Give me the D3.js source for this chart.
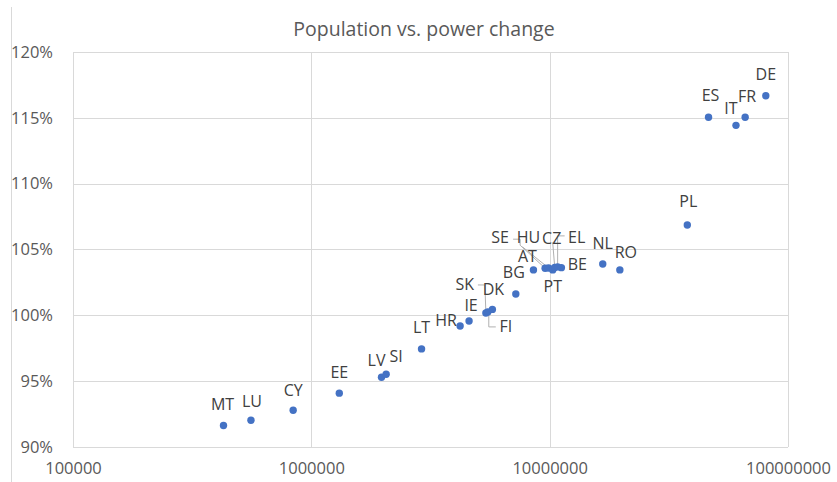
<!DOCTYPE html>
<html>
<head>
<meta charset="utf-8">
<script src="https://cdn.jsdelivr.net/npm/d3@7"></script>
<style>
  body { margin: 0; background: #fff; }
  text { font-family: "Open Sans", sans-serif; }
</style>
</head>
<body>
<div id="chart"></div>
<script>
// Data -------------------------------------------------
const countries   = ["MT","LU","CY","EE","LV","SI","LT","HR","IE","SK","FI","DK","BG","AT","SE","HU","PT","CZ","EL","BE","NL","RO","PL","ES","IT","FR","DE"]
const population  = [428000,558000,839000,1310000,1970000,2060000,2900000,4210000,4590000,5400000,5500000,5750000,7210000,8550000,9570000,9890000,10300000,10500000,10800000,11200000,16700000,19700000,37800000,46400000,60500000,66100000,80700000]
const powerChange = [0.9163,0.9203,0.9279,0.9409,0.9530,0.9553,0.9745,0.9919,0.9957,1.0018,1.0026,1.0045,1.0162,1.0345,1.0358,1.0360,1.0345,1.0364,1.0368,1.0362,1.0390,1.0345,1.0686,1.1504,1.1443,1.1504,1.1668]
const xTicks = [1e5, 1e6, 1e7, 1e8]
const yTicks = [0.90, 0.95, 1.00, 1.05, 1.10, 1.15, 1.20]
const title = "Population vs. power change"

// label placement (pixel nudge from the point) ------------
const labelNudge = {
  MT:[-1,-20], LU:[1,-18], CY:[0,-19], EE:[0,-19], LV:[-5,-15], SI:[10,-16],
  LT:[0,-20], HR:[-14,-4], IE:[2,-14], SK:[-21,-27], FI:[18,16], DK:[1,-19],
  BG:[-2,-20], AT:[-6,-12], SE:[-45,-29], HU:[-20,-29], PT:[0,18], CZ:[-3,-28],
  EL:[19,-28], BE:[16,-2], NL:[0,-19], RO:[6,-16], PL:[1,-22],
  ES:[2,-21], IT:[-5,-16], FR:[2,-20], DE:[0,-20]
}
// leader lines, relative to the point
const leaders = {
  SE:[[-32,-29],[-25,-29],[-25,-23],[0,0]],
  HU:[[-26,-21],[0,0]],
  CZ:[[-2,-25],[0,0]],
  EL:[[7,-31],[0,-31],[0,0]],
  SK:[[-8,-28],[-1,-28],[0,0]],
  FI:[[8,15],[1,15],[1,1]]
}

const data = countries.map((c, i) => ({ c, pop: population[i], pw: powerChange[i] }))

// Canvas setup -----------------------------------------
const W = 837, H = 482
const MARGIN = {LEFT:73, RIGHT:49, TOP:52, BOTTOM:35}
const WIDTH = W - MARGIN.LEFT - MARGIN.RIGHT
const HEIGHT = H - MARGIN.TOP - MARGIN.BOTTOM

const svg = d3.select("#chart").append("svg")
  .attr("width", W)
  .attr("height", H)

// outer chart border (only left edge visible in crop)
svg.append("line")
  .attr("x1", 11.5).attr("x2", 11.5)
  .attr("y1", 7).attr("y2", H)
  .attr("stroke", "#d9d9d9")

svg.append("text")
  .attr("x", 424).attr("y", 31)
  .attr("text-anchor", "middle")
  .attr("dominant-baseline", "middle")
  .attr("fill", "#595959")
  .attr("font-size", "19.5px")
  .text(title)

const g = svg.append("g")
  .attr("transform", `translate(${MARGIN.LEFT}, ${MARGIN.TOP})`)

// Scales ------------------------------------------------
const x = d3.scaleLog().domain([1e5, 1e8]).range([0, WIDTH])
const y = d3.scaleLinear().domain([0.9, 1.2]).range([HEIGHT, 0])

// Grid -----------------------------------------------
g.append("g").selectAll("line").data(yTicks).join("line")
  .attr("x1", 0).attr("x2", WIDTH)
  .attr("y1", d => Math.round(y(d)) + 0.5).attr("y2", d => Math.round(y(d)) + 0.5)
  .attr("stroke", "#d9d9d9")

g.append("g").selectAll("line").data(xTicks).join("line")
  .attr("x1", d => Math.round(x(d)) + 0.5).attr("x2", d => Math.round(x(d)) + 0.5)
  .attr("y1", 0).attr("y2", HEIGHT)
  .attr("stroke", "#d9d9d9")

// Axes ------------------------------------------------
const yAxis = d3.axisLeft(y).tickValues(yTicks).tickFormat(d3.format(".0%")).tickSize(0).tickPadding(20)
const xAxis = d3.axisBottom(x).tickValues(xTicks).tickFormat(d3.format("d")).tickSize(0).tickPadding(15)

g.append("g").call(yAxis)
  .call(a => a.select(".domain").remove())
  .selectAll("text")
  .attr("fill", "#595959").attr("font-size", "16.5px")
  .attr("font-family", "Open Sans, sans-serif")

g.append("g").attr("transform", `translate(0,${HEIGHT})`).call(xAxis)
  .call(a => a.select(".domain").remove())
  .selectAll("text")
  .attr("fill", "#595959").attr("font-size", "16.5px")
  .attr("font-family", "Open Sans, sans-serif")

// Leader lines ----------------------------------------
const lineGen = d3.line()
g.append("g").selectAll("path")
  .data(data.filter(d => leaders[d.c]))
  .join("path")
  .attr("d", d => lineGen(leaders[d.c].map(p => [x(d.pop) + p[0], y(d.pw) + p[1]])))
  .attr("fill", "none")
  .attr("stroke", "#b0b0b0")
  .attr("stroke-width", 1)

// Points -----------------------------------------------
g.append("g").selectAll("circle").data(data).join("circle")
  .attr("cx", d => x(d.pop))
  .attr("cy", d => y(d.pw))
  .attr("r", 3.7)
  .attr("fill", "#4472c4")

// Labels -----------------------------------------------
g.append("g").selectAll("text").data(data).join("text")
  .attr("x", d => x(d.pop) + labelNudge[d.c][0])
  .attr("y", d => y(d.pw) + labelNudge[d.c][1])
  .attr("text-anchor", "middle")
  .attr("dominant-baseline", "middle")
  .attr("fill", "#404040")
  .attr("font-size", "16px")
  .text(d => d.c)
</script>
</body>
</html>
